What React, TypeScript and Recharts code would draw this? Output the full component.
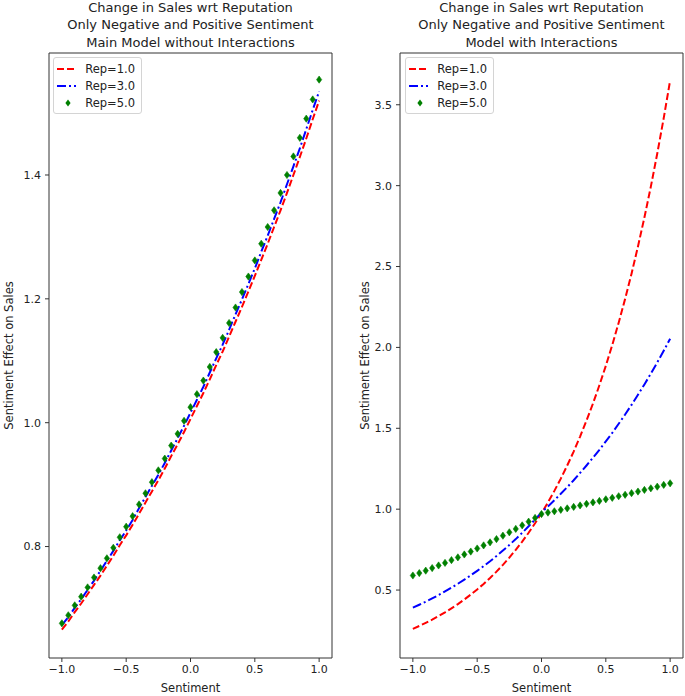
import React from 'react';
import { LineChart, Line, XAxis, YAxis, Legend, ReferenceArea } from 'recharts';

// x grid (Sentiment), step 0.05
const sentiment = [
  -1, -0.95, -0.9, -0.85, -0.8, -0.75, -0.7, -0.65, -0.6, -0.55, -0.5,
  -0.45, -0.4, -0.35, -0.3, -0.25, -0.2, -0.15, -0.1, -0.05, 0,
  0.05, 0.1, 0.15, 0.2, 0.25, 0.3, 0.35, 0.4, 0.45, 0.5,
  0.55, 0.6, 0.65, 0.7, 0.75, 0.8, 0.85, 0.9, 0.95, 1,
];

// Main model without interactions
const mainRep1 = [
  0.666, 0.679, 0.694, 0.708, 0.723, 0.738, 0.753, 0.769, 0.785, 0.802, 0.818,
  0.835, 0.853, 0.871, 0.889, 0.907, 0.926, 0.946, 0.965, 0.985, 1.006,
  1.027, 1.048, 1.070, 1.093, 1.115, 1.139, 1.163, 1.187, 1.212, 1.237,
  1.263, 1.289, 1.316, 1.343, 1.371, 1.400, 1.429, 1.459, 1.490, 1.520,
];
const mainRep3 = [
  0.673, 0.686, 0.701, 0.715, 0.730, 0.745, 0.761, 0.777, 0.793, 0.810, 0.826,
  0.843, 0.862, 0.880, 0.898, 0.916, 0.935, 0.955, 0.975, 0.995, 1.016,
  1.037, 1.058, 1.081, 1.104, 1.126, 1.150, 1.175, 1.199, 1.224, 1.249,
  1.276, 1.302, 1.329, 1.356, 1.385, 1.414, 1.443, 1.474, 1.505, 1.535,
];
const mainRep5 = [
  0.676, 0.689, 0.705, 0.719, 0.734, 0.750, 0.765, 0.781, 0.798, 0.815, 0.832,
  0.849, 0.868, 0.886, 0.904, 0.923, 0.942, 0.963, 0.982, 1.003, 1.025,
  1.046, 1.068, 1.090, 1.114, 1.137, 1.161, 1.186, 1.211, 1.236, 1.262,
  1.289, 1.316, 1.343, 1.371, 1.400, 1.430, 1.460, 1.491, 1.522, 1.554,
];

// Model with interactions
const interRep1 = [
  0.260, 0.278, 0.297, 0.317, 0.339, 0.362, 0.387, 0.413, 0.442, 0.472, 0.504,
  0.538, 0.575, 0.614, 0.656, 0.701, 0.749, 0.800, 0.854, 0.913, 0.975,
  1.042, 1.113, 1.189, 1.270, 1.356, 1.449, 1.548, 1.653, 1.766, 1.886,
  2.015, 2.153, 2.300, 2.456, 2.624, 2.803, 2.994, 3.199, 3.417, 3.650,
];
const interRep3 = [
  0.391, 0.409, 0.428, 0.448, 0.469, 0.492, 0.515, 0.539, 0.564, 0.591, 0.619,
  0.648, 0.678, 0.710, 0.744, 0.779, 0.815, 0.854, 0.894, 0.936, 0.980,
  1.017, 1.055, 1.095, 1.136, 1.179, 1.224, 1.270, 1.318, 1.367, 1.419,
  1.472, 1.528, 1.585, 1.645, 1.707, 1.771, 1.838, 1.907, 1.979, 2.054,
];
const interRep5 = [
  0.590, 0.605, 0.620, 0.636, 0.652, 0.668, 0.685, 0.702, 0.720, 0.738, 0.757,
  0.776, 0.795, 0.815, 0.836, 0.857, 0.878, 0.900, 0.923, 0.946, 0.970,
  0.979, 0.987, 0.996, 1.005, 1.014, 1.023, 1.033, 1.042, 1.051, 1.061,
  1.070, 1.080, 1.089, 1.099, 1.109, 1.119, 1.129, 1.139, 1.150, 1.160,
];

const xTicks = [-1, -0.5, 0, 0.5, 1];
const mainYTicks = [0.8, 1.0, 1.2, 1.4];
const interYTicks = [0.5, 1.0, 1.5, 2.0, 2.5, 3.0, 3.5];

const seriesLabels = ['Rep=1.0', 'Rep=3.0', 'Rep=5.0'];
const mainTitle = ['Change in Sales wrt Reputation', 'Only Negative and Positive Sentiment', 'Main Model without Interactions'];
const interTitle = ['Change in Sales wrt Reputation', 'Only Negative and Positive Sentiment', 'Model with Interactions'];

const FONT = '"DejaVu Sans", sans-serif';
const TEXT = '#222';
const AXIS = '#333';
const RED = '#ff0000';
const BLUE = '#0000ff';
const GREEN = '#008000';

const fmt = (v: number) => (v < 0 ? '\u2212' + Math.abs(v).toFixed(1) : v.toFixed(1));

function buildRows(a: number[], b: number[], c: number[]) {
  return sentiment.map((x, i) => ({ x, r1: a[i], r3: b[i], r5: c[i] }));
}

function Diamond(props: any) {
  const { cx, cy, index } = props;
  if (cx == null || cy == null) return <g key={index} />;
  return (
    <polygon
      key={index}
      points={`${cx},${cy - 3.6} ${cx + 2.6},${cy} ${cx},${cy + 3.6} ${cx - 2.6},${cy}`}
      fill={GREEN}
      stroke={GREEN}
      strokeWidth={0.6}
    />
  );
}

function LegendBox() {
  return (
    <div
      style={{
        border: '1px solid #d4d4d4',
        borderRadius: 3,
        background: '#fff',
        padding: '2px 6px 2px 3px',
        fontFamily: FONT,
        fontSize: 11.5,
        color: TEXT,
        width: 78,
      }}
    >
      {seriesLabels.map((label, i) => (
        <div key={label} style={{ display: 'flex', alignItems: 'center', height: 17 }}>
          <svg width={22} height={10} style={{ marginRight: 9 }}>
            {i === 0 && <line x1={0} y1={5} x2={22} y2={5} stroke={RED} strokeWidth={2} strokeDasharray="7 3" />}
            {i === 1 && <line x1={0} y1={5} x2={22} y2={5} stroke={BLUE} strokeWidth={2} strokeDasharray="9 3 2 3" />}
            {i === 2 && <polygon points="11,1.4 13.6,5 11,8.6 8.4,5" fill={GREEN} />}
          </svg>
          <span>{label}</span>
        </div>
      ))}
    </div>
  );
}

type PanelProps = {
  left: number;
  marginLeft: number;
  marginRight: number;
  title: string[];
  rows: any[];
  yDomain: [number, number];
  yTicks: number[];
  yLabelX: number;
  legendLeft: number;
};

function Panel({ left, marginLeft, marginRight, title, rows, yDomain, yTicks, yLabelX, legendLeft }: PanelProps) {
  const width = 340;
  const height = 696;
  const plotLeft = marginLeft + 40;
  const plotRight = width - marginRight;
  const cx = (plotLeft + plotRight) / 2;
  const cy = (53 + 658) / 2;
  return (
    <div style={{ position: 'absolute', left, top: 0 }}>
      <LineChart width={width} height={height} data={rows} margin={{ top: 53, right: marginRight, bottom: 8, left: marginLeft }}>
        <XAxis
          dataKey="x"
          type="number"
          domain={[-1.1, 1.1]}
          ticks={xTicks}
          tickFormatter={fmt}
          height={30}
          axisLine={false}
          tickSize={4}
          tickMargin={3}
          tickLine={{ stroke: AXIS }}
          tick={{ fill: TEXT, fontSize: 11, fontFamily: FONT }}
        />
        <YAxis
          type="number"
          domain={yDomain}
          ticks={yTicks}
          tickFormatter={fmt}
          width={40}
          axisLine={false}
          tickSize={4}
          tickMargin={4}
          tickLine={{ stroke: AXIS }}
          tick={{ fill: TEXT, fontSize: 11, fontFamily: FONT }}
          allowDataOverflow
        />
        <ReferenceArea
          x1={-1.1}
          x2={1.1}
          y1={yDomain[0]}
          y2={yDomain[1]}
          fill="none"
          stroke={AXIS}
          strokeWidth={1}
          ifOverflow="visible"
        />
        <Line dataKey="r1" name={seriesLabels[0]} stroke={RED} strokeWidth={2} strokeDasharray="7 3" dot={false} isAnimationActive={false} type="linear" />
        <Line dataKey="r3" name={seriesLabels[1]} stroke={BLUE} strokeWidth={2} strokeDasharray="9 3 2 3" dot={false} isAnimationActive={false} type="linear" />
        <Line dataKey="r5" name={seriesLabels[2]} stroke="none" dot={(p: any) => <Diamond key={p.index} {...p} />} isAnimationActive={false} type="linear" />
        <Legend
          layout="vertical"
          align="center"
          verticalAlign="middle"
          content={() => <LegendBox />}
          wrapperStyle={{ left: legendLeft, top: 57, width: 'auto', height: 'auto' }}
        />
        {title.map((t, i) => (
          <text key={i} x={cx} y={11.5 + i * 17.5} textAnchor="middle" fontSize={13} fontFamily={FONT} fill={TEXT}>
            {t}
          </text>
        ))}
        <text x={cx} y={692} textAnchor="middle" fontSize={11.5} fontFamily={FONT} fill={TEXT}>
          Sentiment
        </text>
        <text
          x={yLabelX}
          y={cy}
          textAnchor="middle"
          dominantBaseline="central"
          transform={`rotate(-90, ${yLabelX}, ${cy})`}
          fontSize={11.5}
          fontFamily={FONT}
          fill={TEXT}
        >
          Sentiment Effect on Sales
        </text>
      </LineChart>
    </div>
  );
}

export default function App() {
  const mainRows = buildRows(mainRep1, mainRep3, mainRep5);
  const interRows = buildRows(interRep1, interRep3, interRep5);
  return (
    <div style={{ position: 'absolute', left: 0, top: 0, width: 685, height: 696, background: '#fff' }}>
      <Panel
        left={0}
        marginLeft={9}
        marginRight={8}
        title={mainTitle}
        rows={mainRows}
        yDomain={[0.62, 1.597]}
        yTicks={mainYTicks}
        yLabelX={9}
        legendLeft={53}
      />
      <Panel
        left={345}
        marginLeft={15}
        marginRight={2}
        title={interTitle}
        rows={interRows}
        yDomain={[0.08, 3.82]}
        yTicks={interYTicks}
        yLabelX={20}
        legendLeft={60}
      />
    </div>
  );
}
